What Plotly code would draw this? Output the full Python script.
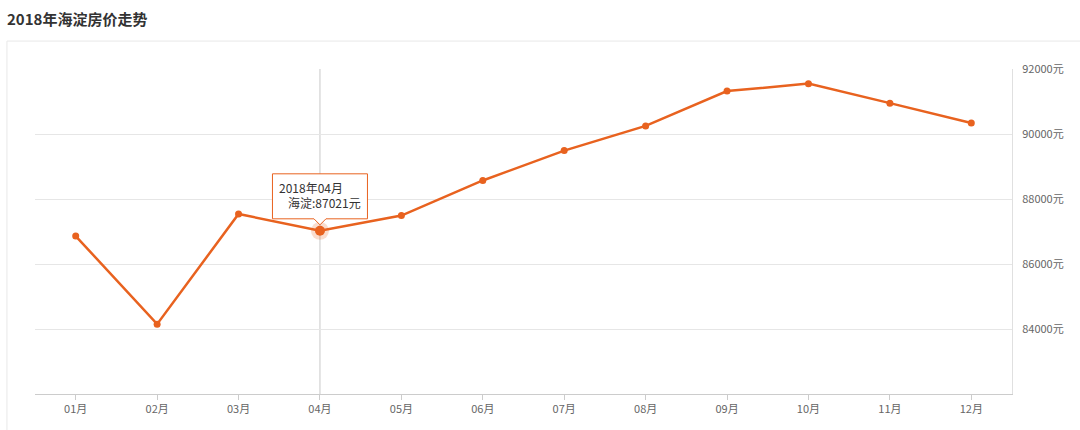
import plotly.graph_objects as go

months = ["01月", "02月", "03月", "04月", "05月", "06月", "07月", "08月", "09月", "10月", "11月", "12月"]
prices = [86860, 84150, 87540, 87021, 87490, 88570, 89490, 90250, 91320, 91550, 90950, 90340]
y_ticks = [84000, 86000, 88000, 90000, 92000]
y_tick_labels = ["84000元", "86000元", "88000元", "90000元", "92000元"]
title_text = "2018年海淀房价走势"
series_name = "海淀"
tooltip_title = "2018年04月"
hover_idx = 3

FONT = "Noto Sans CJK SC, Noto Sans, sans-serif"
ORANGE = "#E8621F"

fig = go.Figure()

fig.add_trace(go.Scatter(
    x=months, y=prices, mode="lines+markers", name=series_name,
    line=dict(color=ORANGE, width=2.5),
    marker=dict(size=7, color=ORANGE), showlegend=False))

# halo + enlarged highlighted point
fig.add_trace(go.Scatter(
    x=[months[hover_idx]], y=[prices[hover_idx]], mode="markers",
    marker=dict(size=18, color=ORANGE, opacity=0.22), hoverinfo="skip", showlegend=False))
fig.add_trace(go.Scatter(
    x=[months[hover_idx]], y=[prices[hover_idx]], mode="markers",
    marker=dict(size=10, color=ORANGE), hoverinfo="skip", showlegend=False))

# crosshair
fig.add_shape(type="line", xref="x", yref="paper", x0=hover_idx, x1=hover_idx, y0=0, y1=1,
              line=dict(color="#c8c8c8", width=1), layer="below")

# panel border
fig.add_shape(type="rect", xref="paper", yref="paper", x0=-0.0287, x1=1.2, y0=-0.3, y1=1.086,
              line=dict(color="#e8e8e8", width=1), fillcolor="rgba(0,0,0,0)", layer="below")

# tooltip box with pointer (pixel-sized, anchored at hovered point)
fig.add_shape(type="path", xref="x", yref="y",
              xsizemode="pixel", ysizemode="pixel",
              xanchor=hover_idx, yanchor=prices[hover_idx],
              path="M-47.5,57 L47.5,57 L47.5,12 L6,12 L0,6 L-6,12 L-47.5,12 Z",
              fillcolor="white", line=dict(color=ORANGE, width=1), layer="above")

fig.add_annotation(
    x=hover_idx, y=prices[hover_idx], xref="x", yref="y",
    text=tooltip_title, showarrow=False, xanchor="left", yanchor="middle",
    xshift=-43, yshift=43, font=dict(family=FONT, size=12, color="#333333"))
fig.add_annotation(
    x=hover_idx, y=prices[hover_idx], xref="x", yref="y",
    text=series_name + ":" + f"{prices[hover_idx]}元", showarrow=False,
    xanchor="left", yanchor="middle",
    xshift=-34, yshift=28, font=dict(family=FONT, size=12, color="#333333"))

fig.add_annotation(
    xref="paper", yref="paper", x=-0.031, y=1.154, xanchor="left", yanchor="middle",
    text="<b>" + title_text + "</b>", showarrow=False,
    font=dict(family=FONT, size=15, color="#333333"))

fig.update_layout(
    width=1080, height=430,
    margin=dict(l=35, r=68, t=69, b=36),
    paper_bgcolor="white", plot_bgcolor="white",
    font=dict(family=FONT, size=11, color="#666666"),
    xaxis=dict(
        type="category", categoryorder="array", categoryarray=months,
        range=[-0.5, 11.5], showgrid=False,
        showline=True, linecolor="#cccccc", linewidth=1,
        ticks="outside", ticklen=5, tickcolor="#cccccc",
        tickfont=dict(family=FONT, size=11, color="#666666"), zeroline=False),
    yaxis=dict(
        side="right", range=[82000, 92000], tickvals=y_ticks, ticktext=y_tick_labels,
        showgrid=True, gridcolor="#e6e6e6", gridwidth=1,
        showline=True, linecolor="#e0e0e0", linewidth=1,
        ticks="", ticklabelstandoff=7, zeroline=False,
        tickfont=dict(family=FONT, size=11, color="#666666")),
)

fig.write_html("out.html", config={"displayModeBar": False},
               post_script="document.body.style.margin='0';")
